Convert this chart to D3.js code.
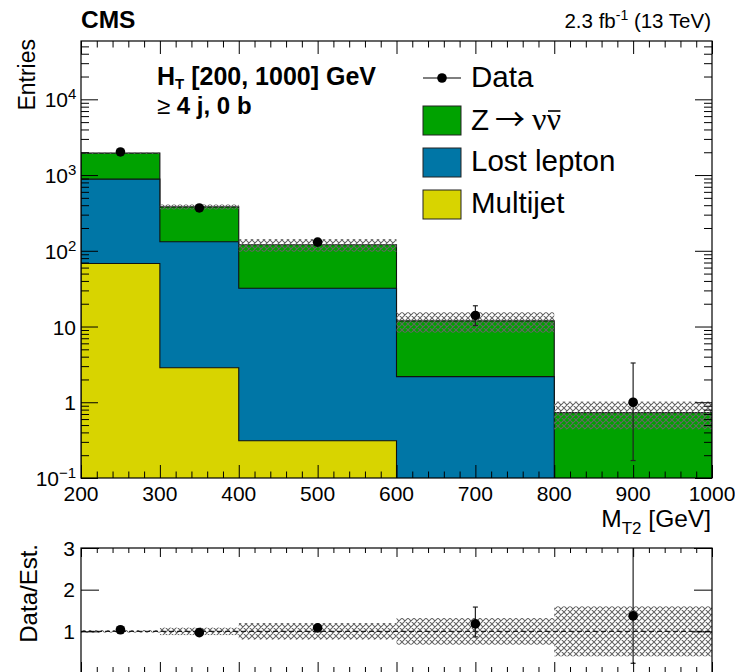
<!DOCTYPE html>
<html>
<head>
<meta charset="utf-8">
<script src="https://cdn.jsdelivr.net/npm/d3@7/dist/d3.min.js"></script>
<style>
  html, body { margin: 0; padding: 0; background: #fff; }
  svg { display: block; font-family: "Liberation Sans", Arial, Helvetica, sans-serif; }
</style>
</head>
<body>
<svg id="chart" width="735" height="672"></svg>
<script>
// M_T2 bins (GeV)
const binEdges = [200, 300, 400, 600, 800, 1000];
// Stacked background estimates per bin
const multijet   = [68, 2.85, 0.31, 0, 0];
const lostLepton = [815, 129, 31.7, 2.18, 0];
const zNuNu      = [1063, 248, 88, 9.7, 0.73];
// Observed data and asymmetric errors
const dataCounts  = [2020, 368, 130, 14, 1];
const dataErrLow  = [45, 19, 11.4, 3.7, 0.83];
const dataErrHigh = [45, 19, 11.4, 4.8, 2.3];
// Relative uncertainty on the total estimate (main pad) and ratio band half-width
const estRelUnc    = [0.02, 0.075, 0.19, 0.3, 0.4];
const ratioBandUnc = [0.03, 0.09, 0.2, 0.32, 0.6];
// Axis ticks and labels
const xMajorTicks = [200, 300, 400, 500, 600, 700, 800, 900, 1000];
const yTickValues = [0.1, 1, 10, 100, 1000, 10000];
const yTickBase   = ["10", "1", "10", "10", "10", "10"];
const yTickExp    = ["\u22121", "", "", "2", "3", "4"];
const ratioTicks  = [1, 2, 3];
const legendNames = ["Z", "Lost lepton", "Multijet"];
const colors = { z: "#00a200", ll: "#0076a6", mj: "#d8d400" };

const svg = d3.select("#chart");
const L = 81, R = 712, T = 41, B = 478;
const RT = 548, RB = 673;

const x = d3.scaleLinear().domain([200, 1000]).range([L, R]);
const y = d3.scaleLog().domain([0.1, Math.pow(10, 4.77)]).range([B, T]);
const yr = d3.scaleLinear().domain([0, 3]).range([RB, RT]);

const defs = svg.append("defs");
const pat = defs.append("pattern").attr("id", "hatch").attr("patternUnits", "userSpaceOnUse")
  .attr("width", 6).attr("height", 6);
pat.append("path").attr("d", "M0,0 L6,6 M6,0 L0,6 M-1,5 L1,7 M5,-1 L7,1 M-1,1 L1,-1 M5,7 L7,5")
  .attr("stroke", "#646464").attr("stroke-width", 1.05).attr("fill", "none");
defs.append("clipPath").attr("id", "clipMain").append("rect")
  .attr("x", L).attr("y", T).attr("width", R - L).attr("height", B - T);
defs.append("clipPath").attr("id", "clipRatio").append("rect")
  .attr("x", L).attr("y", RT).attr("width", R - L).attr("height", RB - RT);

// cumulative stacks
const nb = dataCounts.length;
const cumMJ = multijet.slice();
const cumLL = multijet.map((v, i) => v + lostLepton[i]);
const total = cumLL.map((v, i) => v + zNuNu[i]);

const safeY = v => (v > 0.1 ? y(v) : B + 2);
function stepPath(vals) {
  let p = `M${x(binEdges[0])},${B + 2}`;
  vals.forEach((v, i) => {
    p += ` L${x(binEdges[i])},${safeY(v)} L${x(binEdges[i + 1])},${safeY(v)}`;
  });
  p += ` L${x(binEdges[nb])},${B + 2} Z`;
  return p;
}

const main = svg.append("g").attr("clip-path", "url(#clipMain)");
[[total, colors.z], [cumLL, colors.ll], [cumMJ, colors.mj]].forEach(([vals, c]) => {
  main.append("path").attr("d", stepPath(vals)).attr("fill", c)
    .attr("stroke", "#111").attr("stroke-width", 1.1).attr("stroke-linejoin", "miter");
});

// uncertainty band on total
main.selectAll("rect.band").data(total).enter().append("rect")
  .attr("x", (d, i) => x(binEdges[i]))
  .attr("width", (d, i) => x(binEdges[i + 1]) - x(binEdges[i]))
  .attr("y", (d, i) => y(d * (1 + estRelUnc[i])))
  .attr("height", (d, i) => y(d * (1 - estRelUnc[i])) - y(d * (1 + estRelUnc[i])))
  .attr("fill", "url(#hatch)");

// data points
const centers = binEdges.slice(0, nb).map((e, i) => (e + binEdges[i + 1]) / 2);
function drawPoints(g, ys, lo, hi) {
  ys.forEach((v, i) => {
    const cx = x(centers[i]), cy = v, y1 = lo[i], y2 = hi[i];
    if (Math.abs(y1 - y2) > 9) {
      g.append("line").attr("x1", cx).attr("x2", cx).attr("y1", y1).attr("y2", y2)
        .attr("stroke", "#222").attr("stroke-width", 1.2);
      [y1, y2].forEach(yy => g.append("line").attr("x1", cx - 2.5).attr("x2", cx + 2.5)
        .attr("y1", yy).attr("y2", yy).attr("stroke", "#222").attr("stroke-width", 1.2));
    }
    g.append("circle").attr("cx", cx).attr("cy", cy).attr("r", 4.8).attr("fill", "#000");
  });
}
drawPoints(main,
  dataCounts.map(d => y(d)),
  dataCounts.map((d, i) => y(Math.max(d - dataErrLow[i], 0.05))),
  dataCounts.map((d, i) => y(d + dataErrHigh[i])));

// ---------- axes helpers ----------
function minorRange(step, lo, hi) {
  const out = [];
  for (let v = lo; v <= hi + 1e-9; v += step) out.push(Math.round(v * 100) / 100);
  return out;
}
const xMinor = minorRange(20, 200, 1000).filter(v => v % 100 !== 0);

function xTicks(yPos, dir, major, minor) {
  const axisFn = dir > 0 ? d3.axisBottom : d3.axisTop;
  svg.append("g").attr("transform", `translate(0,${yPos})`)
    .call(axisFn(x).tickValues(xMajorTicks).tickSize(-major).tickFormat(""))
    .call(g => g.select(".domain").remove());
  svg.append("g").attr("transform", `translate(0,${yPos})`)
    .call(axisFn(x).tickValues(xMinor).tickSize(-minor).tickFormat(""))
    .call(g => g.select(".domain").remove());
}

// main frame ticks
xTicks(B, 1, 13, 6.5);
xTicks(T, -1, 13, 6.5);
const yMinor = [];
for (let e = -1; e <= 4; e++) for (let k = 2; k <= 9; k++) {
  const v = k * Math.pow(10, e);
  if (v < Math.pow(10, 4.77)) yMinor.push(v);
}
[[d3.axisLeft, L], [d3.axisRight, R]].forEach(([fn, xp]) => {
  svg.append("g").attr("transform", `translate(${xp},0)`)
    .call(fn(y).tickValues(yTickValues).tickSize(-17).tickFormat(""))
    .call(g => g.select(".domain").remove());
  svg.append("g").attr("transform", `translate(${xp},0)`)
    .call(fn(y).tickValues(yMinor).tickSize(-8).tickFormat(""))
    .call(g => g.select(".domain").remove());
});
svg.selectAll(".tick line").attr("stroke", "#000").attr("stroke-width", 1);

svg.append("rect").attr("x", L).attr("y", T).attr("width", R - L).attr("height", B - T)
  .attr("fill", "none").attr("stroke", "#000").attr("stroke-width", 1.2);

// x tick labels
svg.append("g").selectAll("text").data(xMajorTicks).enter().append("text")
  .attr("x", d => x(d)).attr("y", 500.5).attr("text-anchor", "middle")
  .attr("font-size", 21).text(d => d);

// y tick labels
yTickValues.forEach((v, i) => {
  const xr = yTickExp[i] ? 76 - (yTickExp[i].length > 1 ? 17 : 8) : 76;
  svg.append("text").attr("x", xr).attr("y", y(v) + 8).attr("text-anchor", "end")
    .attr("font-size", 21).text(yTickBase[i]);
  if (yTickExp[i]) {
    svg.append("text").attr("x", xr).attr("y", y(v)).attr("font-size", 15).text(yTickExp[i]);
  }
});

// axis titles
svg.append("text").attr("transform", "translate(35,39) rotate(-90)")
  .attr("text-anchor", "end").attr("font-size", 23).text("Entries");
const mt = svg.append("text").attr("x", 711).attr("y", 527).attr("text-anchor", "end").attr("font-size", 24.5);
mt.append("tspan").text("M");
mt.append("tspan").attr("font-size", 17).attr("dy", 7).text("T2");
mt.append("tspan").attr("dy", -7).text(" [GeV]");

// header
svg.append("text").attr("x", 81).attr("y", 28).attr("font-size", 24.5).attr("font-weight", "bold").text("CMS");
const lumi = svg.append("text").attr("x", 711).attr("y", 28).attr("text-anchor", "end").attr("font-size", 20.5);
lumi.append("tspan").text("2.3 fb");
lumi.append("tspan").attr("font-size", 14).attr("dy", -8).text("-1");
lumi.append("tspan").attr("dy", 8).text(" (13 TeV)");

// selection text
const ht = svg.append("text").attr("x", 157).attr("y", 85).attr("font-size", 25).attr("font-weight", "bold");
ht.append("tspan").text("H");
ht.append("tspan").attr("font-size", 15).attr("dy", 3.5).text("T");
ht.append("tspan").attr("dy", -3.5).text(" [200, 1000] GeV");
const nj = svg.append("text").attr("x", 157).attr("y", 114).attr("font-size", 24);
nj.append("tspan").text("\u2265 ");
nj.append("tspan").attr("font-weight", "bold").text("4 j, 0 b");

// legend
const lgX = 423, lgW = 38, lgH = 29, txtX = 471, lgFont = 29.5;
svg.append("line").attr("x1", lgX).attr("x2", lgX + lgW).attr("y1", 78).attr("y2", 78)
  .attr("stroke", "#000").attr("stroke-width", 1.2);
svg.append("circle").attr("cx", lgX + lgW / 2).attr("cy", 78).attr("r", 4.8).attr("fill", "#000");
svg.append("text").attr("x", txtX).attr("y", 87).attr("font-size", lgFont).text("Data");
const lgColors = [colors.z, colors.ll, colors.mj];
const lgTop = [106, 148, 190];
const lgBase = [130, 171, 213];
legendNames.forEach((name, i) => {
  svg.append("rect").attr("x", lgX).attr("y", lgTop[i]).attr("width", lgW).attr("height", lgH)
    .attr("fill", lgColors[i]).attr("stroke", "#222").attr("stroke-width", 1);
  const t = svg.append("text").attr("x", txtX).attr("y", lgBase[i]).attr("font-size", lgFont);
  t.append("tspan").text(name);
  if (i === 0) {
    t.append("tspan").attr("font-family", "'Noto Sans CJK JP', 'DejaVu Sans', sans-serif")
      .attr("font-size", 30).attr("dx", 6).attr("dy", 0).text("\u2192");
    t.append("tspan").attr("font-family", "'Liberation Serif', 'Times New Roman', serif")
      .attr("font-size", 32).attr("dx", 7).text("\u03bd\u03bd");
    // overline on the second neutrino symbol
    const node = t.node();
    const n = node.getNumberOfChars();
    const last = node.getExtentOfChar(n - 1);
    svg.append("line").attr("x1", last.x + 1.5).attr("x2", last.x + last.width - 0.5)
      .attr("y1", lgBase[i] - 19).attr("y2", lgBase[i] - 19).attr("stroke", "#000").attr("stroke-width", 1.6);
  }
});

// ---------- ratio pad ----------
const rg = svg.append("g").attr("clip-path", "url(#clipRatio)");
rg.selectAll("rect.rband").data(ratioBandUnc).enter().append("rect")
  .attr("x", (d, i) => x(binEdges[i]))
  .attr("width", (d, i) => x(binEdges[i + 1]) - x(binEdges[i]))
  .attr("y", d => yr(1 + d))
  .attr("height", d => yr(1 - d) - yr(1 + d))
  .attr("fill", "url(#hatch)");
rg.append("line").attr("x1", L).attr("x2", R).attr("y1", yr(1)).attr("y2", yr(1))
  .attr("stroke", "#000").attr("stroke-width", 1).attr("stroke-dasharray", "5,3");
const ratio = dataCounts.map((d, i) => d / total[i]);
drawPoints(rg,
  ratio.map(v => yr(v)),
  dataCounts.map((d, i) => yr((d - dataErrLow[i]) / total[i])),
  dataCounts.map((d, i) => yr((d + dataErrHigh[i]) / total[i])));

xTicks(RB, 1, 11, 6);
xTicks(RT, -1, 9, 5);
[[d3.axisLeft, L], [d3.axisRight, R]].forEach(([fn, xp]) => {
  svg.append("g").attr("transform", `translate(${xp},0)`)
    .call(fn(yr).tickValues(ratioTicks).tickSize(-18).tickFormat(""))
    .call(g => g.select(".domain").remove());
});
svg.selectAll(".tick line").attr("stroke", "#000").attr("stroke-width", 1);
svg.append("rect").attr("x", L).attr("y", RT).attr("width", R - L).attr("height", RB - RT)
  .attr("fill", "none").attr("stroke", "#000").attr("stroke-width", 1.2);
svg.append("g").selectAll("text").data(ratioTicks).enter().append("text")
  .attr("x", 75).attr("y", d => yr(d) + 7.5).attr("text-anchor", "end")
  .attr("font-size", 21).text(d => d);
svg.append("text").attr("transform", "translate(37,544) rotate(-90)")
  .attr("text-anchor", "end").attr("font-size", 24).text("Data/Est.");
</script>
</body>
</html>
